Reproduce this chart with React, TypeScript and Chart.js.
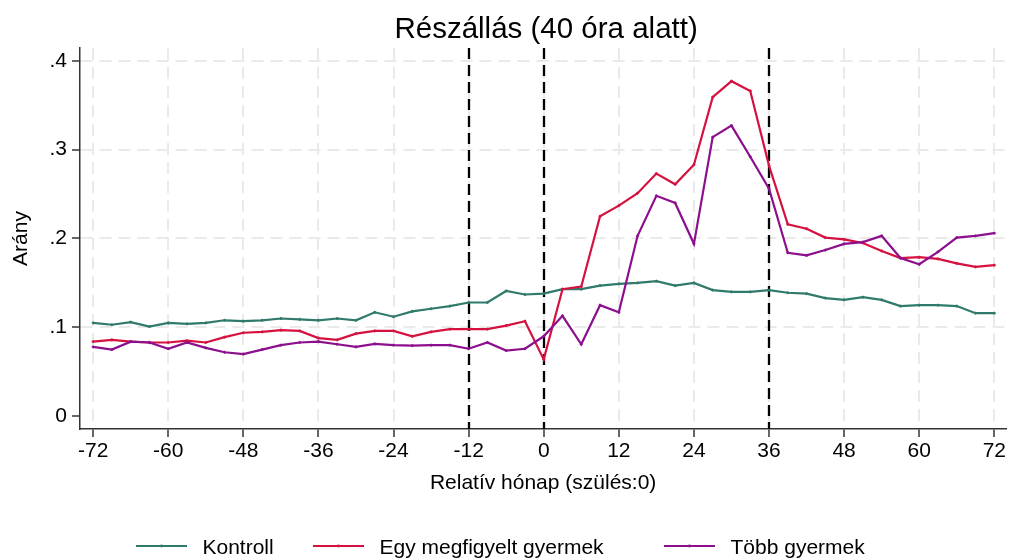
import React, { useEffect, useRef } from 'react';
import { Chart, registerables } from 'chart.js';

Chart.register(...registerables);

// ---------- data ----------
const months = [
  -72, -69, -66, -63, -60, -57, -54, -51, -48, -45, -42, -39, -36,
  -33, -30, -27, -24, -21, -18, -15, -12, -9, -6, -3, 0,
  3, 6, 9, 12, 15, 18, 21, 24, 27, 30, 33, 36,
  39, 42, 45, 48, 51, 54, 57, 60, 63, 66, 69, 72,
];

const kontroll = [
  0.105, 0.103, 0.106, 0.101, 0.105, 0.104, 0.105, 0.108, 0.107, 0.108, 0.110, 0.109, 0.108,
  0.110, 0.108, 0.117, 0.112, 0.118, 0.121, 0.124, 0.128, 0.128, 0.141, 0.137, 0.138,
  0.143, 0.143, 0.147, 0.149, 0.150, 0.152, 0.147, 0.150, 0.142, 0.140, 0.140, 0.142,
  0.139, 0.138, 0.133, 0.131, 0.134, 0.131, 0.124, 0.125, 0.125, 0.124, 0.116, 0.116,
];

const egyGyermek = [
  0.084, 0.086, 0.084, 0.083, 0.083, 0.085, 0.083, 0.089, 0.094, 0.095, 0.097, 0.096, 0.088,
  0.086, 0.093, 0.096, 0.096, 0.090, 0.095, 0.098, 0.098, 0.098, 0.102, 0.107, 0.064,
  0.143, 0.146, 0.225, 0.237, 0.251, 0.273, 0.261, 0.283, 0.359, 0.377, 0.366, 0.282,
  0.216, 0.211, 0.201, 0.199, 0.195, 0.186, 0.178, 0.179, 0.177, 0.172, 0.168, 0.170,
];

const tobbGyermek = [
  0.078, 0.075, 0.084, 0.083, 0.076, 0.083, 0.077, 0.072, 0.070, 0.075, 0.080, 0.083, 0.084,
  0.081, 0.078, 0.0815, 0.080, 0.0796, 0.080, 0.080, 0.076, 0.083, 0.074, 0.076, 0.090,
  0.113, 0.081, 0.125, 0.117, 0.203, 0.248, 0.240, 0.194, 0.314, 0.327, 0.292, 0.256,
  0.184, 0.181, 0.187, 0.194, 0.196, 0.203, 0.178, 0.171, 0.185, 0.201, 0.203, 0.206,
];

const xTicks = [-72, -60, -48, -36, -24, -12, 0, 12, 24, 36, 48, 60, 72];
const yTicks = [0, 0.1, 0.2, 0.3, 0.4];
const yTickLabels = ['0', '.1', '.2', '.3', '.4'];
const refLines = [-12, 0, 36];

const seriesNames = ['Kontroll', 'Egy megfigyelt gyermek', 'Több gyermek'];
const seriesColors = ['#2f7a6b', '#d5123f', '#8c0f8d'];
const titleText = 'Részállás (40 óra alatt)';
const xTitle = 'Relatív hónap (szülés:0)';
const yTitle = 'Arány';

// ---------- layout constants ----------
const W = 1011;
const H = 559;
const FONT = '"Liberation Sans", Arial, Helvetica, sans-serif';
const legendX = [136, 313, 664];
const legendY = 546;
const legendLine = 51;
const legendTextGap = 15.5;

export default function App() {
  const ref = useRef<HTMLCanvasElement | null>(null);

  useEffect(() => {
    if (!ref.current) return;
    Chart.defaults.font.family = FONT;

    const seriesValues = [kontroll, egyGyermek, tobbGyermek];
    const datasets = seriesValues.map((vals, i) => ({
      label: seriesNames[i],
      data: months.map((m, j) => ({ x: m, y: vals[j] })),
      borderColor: seriesColors[i],
      backgroundColor: seriesColors[i],
      pointBackgroundColor: seriesColors[i],
      pointBorderColor: seriesColors[i],
      borderWidth: 2.2,
      pointRadius: 1.1,
      pointBorderWidth: 0.8,
      tension: 0,
      fill: false,
      order: 3 - i,
    }));

    const overlay = {
      id: 'overlay',
      beforeDatasetsDraw(chart: any) {
        const { ctx, chartArea, scales } = chart;
        const x = scales.x;
        ctx.save();
        ctx.strokeStyle = '#000';
        ctx.lineWidth = 2.3;
        ctx.setLineDash([11, 6]);
        for (const v of refLines) {
          const px = Math.round(x.getPixelForValue(v));
          ctx.beginPath();
          ctx.moveTo(px, chartArea.top);
          ctx.lineTo(px, chartArea.bottom);
          ctx.stroke();
        }
        ctx.restore();
      },
      afterDraw(chart: any) {
        const { ctx, chartArea } = chart;
        ctx.save();
        // title
        ctx.fillStyle = '#000';
        ctx.font = `29.5px ${FONT}`;
        ctx.textAlign = 'center';
        ctx.textBaseline = 'alphabetic';
        ctx.fillText(titleText, (chartArea.left + chartArea.right) / 2 + 3, 38);
        // legend
        ctx.font = `21px ${FONT}`;
        ctx.textAlign = 'left';
        seriesNames.forEach((name, i) => {
          const lx = legendX[i];
          ctx.strokeStyle = seriesColors[i];
          ctx.lineWidth = 2.2;
          ctx.setLineDash([]);
          ctx.beginPath();
          ctx.moveTo(lx, legendY);
          ctx.lineTo(lx + legendLine, legendY);
          ctx.stroke();
          ctx.fillStyle = seriesColors[i];
          ctx.beginPath();
          ctx.arc(lx + legendLine / 2, legendY, 1.4, 0, Math.PI * 2);
          ctx.fill();
          ctx.fillStyle = '#000';
          ctx.fillText(name, lx + legendLine + legendTextGap, legendY + 7.5);
        });
        ctx.restore();
      },
    };

    const chart = new Chart(ref.current, {
      type: 'line',
      data: { datasets } as any,
      plugins: [overlay],
      options: {
        animation: false,
        responsive: false,
        maintainAspectRatio: false,
        layout: { padding: { left: 0, top: 48, right: 1, bottom: 0 } },
        plugins: {
          legend: { display: false },
          title: { display: false },
          tooltip: { enabled: false },
        },
        scales: {
          x: {
            type: 'linear',
            min: -74.1,
            max: 73.9,
            afterBuildTicks: (s: any) => {
              s.ticks = xTicks.map((v) => ({ value: v }));
            },
            afterFit: (s: any) => {
              s.height = 130;
            },
            ticks: {
              color: '#000',
              font: { size: 21 },
              padding: 2,
              maxRotation: 0,
              autoSkip: false,
              callback: (v: any) => String(v),
            },
            grid: {
              color: '#eaeaea',
              lineWidth: 2,
              tickColor: '#333',
              tickWidth: 1.5,
              tickLength: 8,
              tickBorderDash: [],
            },
            border: { color: '#333', width: 1.5, dash: [12, 7] },
            title: {
              display: true,
              text: xTitle,
              color: '#000',
              font: { size: 21 },
              padding: { top: 0, bottom: 63 },
            },
          },
          y: {
            type: 'linear',
            min: -0.0143,
            max: 0.4143,
            afterBuildTicks: (s: any) => {
              s.ticks = yTicks.map((v) => ({ value: v }));
            },
            afterFit: (s: any) => {
              s.width = 80;
            },
            ticks: {
              color: '#000',
              font: { size: 21 },
              padding: 5,
              callback: (v: any) => {
                const i = yTicks.indexOf(v);
                return i >= 0 ? yTickLabels[i] : '';
              },
            },
            grid: {
              color: (ctx: any) => (ctx.tick && ctx.tick.value === 0 ? 'rgba(0,0,0,0)' : '#eaeaea'),
              lineWidth: 2,
              tickColor: '#333',
              tickWidth: 1.5,
              tickLength: 8,
              tickBorderDash: [],
            },
            border: { color: '#333', width: 1.5, dash: [12, 7] },
            title: {
              display: true,
              text: yTitle,
              color: '#000',
              font: { size: 21 },
              padding: { top: 9, bottom: 0 },
            },
          },
        },
      } as any,
    });

    return () => chart.destroy();
  }, []);

  return (
    <div style={{ position: 'absolute', left: 0, top: 0, width: W, height: H, background: '#fff' }}>
      <canvas ref={ref} width={W} height={H} style={{ display: 'block' }} />
    </div>
  );
}
